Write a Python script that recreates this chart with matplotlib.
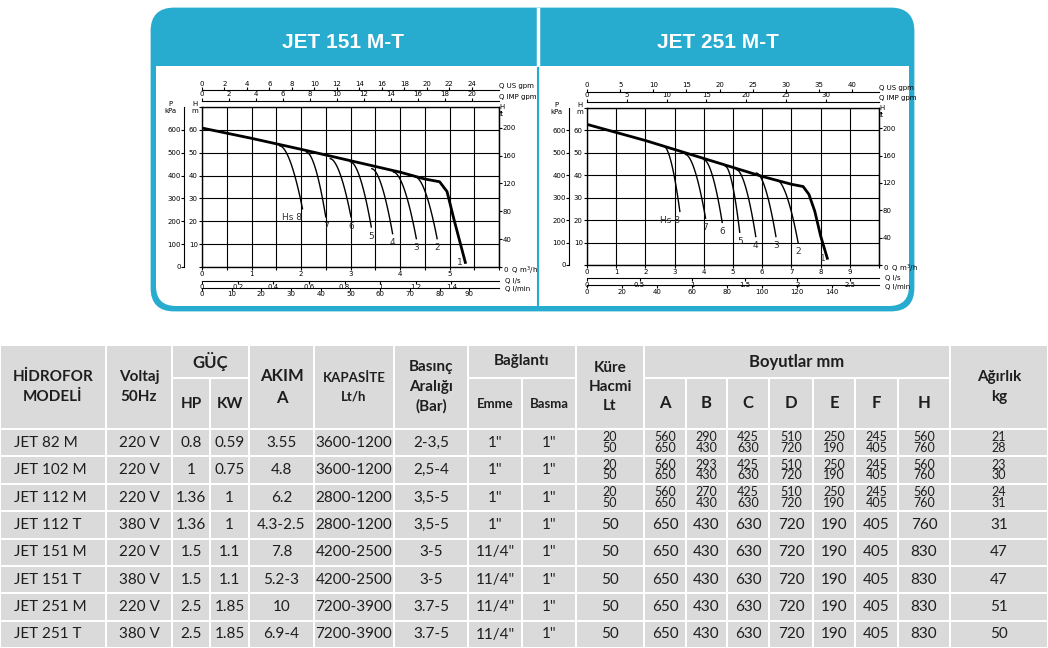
import numpy as np
import matplotlib
matplotlib.use("Agg")
import matplotlib.pyplot as plt
from matplotlib.patches import FancyBboxPatch, Rectangle

W, H = 1048, 648
TEAL = "#27abcf"
GRAY = "#dadada"
FONT = "Lato"

# ── pump curves (Q m3/h, H m) ─────────────────────────────────────────────────
left_main_q = [0, 1, 2, 3, 4, 4.5, 4.8, 4.95, 5.1, 5.32]
left_main_h = [60.8, 56.3, 51.5, 46.5, 41.5, 38.5, 37.3, 33, 20, 2]
left_lbl = ["Hs 8", "7", "6", "5", "4", "3", "2"]
left_q0 = [1.57, 2.11, 2.59, 3.00, 3.43, 3.87, 4.31]
left_h0 = [53.0, 50.3, 47.4, 46.0, 43.0, 41.5, 39.4]
left_q1 = [2.03, 2.50, 3.01, 3.42, 3.85, 4.33, 4.75]
left_h1 = [25.5, 21.9, 21.9, 17.5, 14.6, 12.4, 12.4]

right_main_q = [0, 2, 4, 6, 7, 7.4, 7.6, 7.8, 8.0, 8.23]
right_main_h = [62.7, 55.5, 47.5, 39.5, 36, 35, 31.5, 24, 13, 3]
right_lbl = ["Hs 8", "7", "6", "5", "4", "3", "2"]
right_q0 = [2.63, 3.37, 4.00, 4.74, 5.12, 5.80, 6.49]
right_h0 = [53.0, 49.3, 47.0, 44.0, 42.5, 41.0, 38.0]
right_q1 = [3.18, 4.06, 4.63, 5.23, 5.78, 6.47, 7.23]
right_h1 = [23.9, 20.9, 19.0, 14.6, 12.7, 12.7, 10.0]

# ── table data ────────────────────────────────────────────────────────────────
models = ["JET 82 M", "JET 102 M", "JET 112 M", "JET 112 T",
          "JET 151 M", "JET 151 T", "JET 251 M", "JET 251 T"]
voltaj = ["220 V", "220 V", "220 V", "380 V", "220 V", "380 V", "220 V", "380 V"]
hp = ["0.8", "1", "1.36", "1.36", "1.5", "1.5", "2.5", "2.5"]
kw = ["0.59", "0.75", "1", "1", "1.1", "1.1", "1.85", "1.85"]
akim = ["3.55", "4.8", "6.2", "4.3-2.5", "7.8", "5.2-3", "10", "6.9-4"]
kapasite = ["3600-1200", "3600-1200", "2800-1200", "2800-1200",
            "4200-2500", "4200-2500", "7200-3900", "7200-3900"]
basinc = ["2-3,5", "2,5-4", "3,5-5", "3,5-5", "3-5", "3-5", "3.7-5", "3.7-5"]
emme = ['1"', '1"', '1"', '1"', '11/4"', '11/4"', '11/4"', '11/4"']
basma = ['1"'] * 8
kure = ["20\n50", "20\n50", "20\n50", "50", "50", "50", "50", "50"]
dim_a = ["560\n650", "560\n650", "560\n650", "650", "650", "650", "650", "650"]
dim_b = ["290\n430", "293\n430", "270\n430", "430", "430", "430", "430", "430"]
dim_c = ["425\n630", "425\n630", "425\n630", "630", "630", "630", "630", "630"]
dim_d = ["510\n720", "510\n720", "510\n720", "720", "720", "720", "720", "720"]
dim_e = ["250\n190", "250\n190", "250\n190", "190", "190", "190", "190", "190"]
dim_f = ["245\n405", "245\n405", "245\n405", "405", "405", "405", "405", "405"]
dim_h = ["560\n760", "560\n760", "560\n760", "760", "830", "830", "830", "830"]
agirlik = ["21\n28", "23\n30", "24\n31", "31", "47", "47", "51", "50"]

fig = plt.figure(figsize=(W / 100, H / 100), dpi=100)
bg = fig.add_axes([0, 0, 1, 1])
bg.set_xlim(0, W)
bg.set_ylim(H, 0)
bg.axis("off")

# ── teal panel ────────────────────────────────────────────────────────────────
bg.add_patch(FancyBboxPatch((152, 9), 761, 301, boxstyle="round,pad=0,rounding_size=22",
                            fc=TEAL, ec=TEAL, lw=2))
bg.add_patch(FancyBboxPatch((156, 68), 753, 238, boxstyle="round,pad=0,rounding_size=20",
                            fc="white", ec="none"))
bg.add_patch(Rectangle((156, 66), 753, 20, fc="white", ec="none"))
bg.plot([538, 538], [9, 68], color="white", lw=2.5)
bg.plot([538, 538], [68, 308], color=TEAL, lw=1.5)
bg.text(343, 42, "JET 151 M-T", color="white", fontsize=15, fontweight="bold",
        ha="center", va="center", family="Liberation Sans")
bg.text(718, 42, "JET 251 M-T", color="white", fontsize=15, fontweight="bold",
        ha="center", va="center", family="Liberation Sans")


def chart(rect, xmax, mq, mh, lbl, q0, h0, q1, h1, conv):
    l, t, r, b = rect
    ax = fig.add_axes([l / W, 1 - b / H, (r - l) / W, (b - t) / H])
    ax.set_xlim(0, xmax)
    ax.set_ylim(0, 70)
    ax.set_xticks(np.arange(0, xmax + 0.01, conv["grid"]))
    ax.set_xticklabels([f"{v:g}" if float(v).is_integer() and v < xmax else ""
                        for v in ax.get_xticks()])
    ax.set_yticks(np.arange(0, 71, 10))
    ax.set_yticklabels(["", "10", "20", "30", "40", "50", "60", ""])
    ax.grid(True, color="black", lw=0.8)
    ax.tick_params(labelsize=5, length=2, pad=1)
    for s in ax.spines.values():
        s.set_linewidth(1)
    ax.plot(mq, mh, color="black", lw=2)
    for i in range(len(lbl)):
        qq = np.linspace(q0[i], q1[i], 30)
        hh = h0[i] - (h0[i] - h1[i]) * ((qq - q0[i]) / (q1[i] - q0[i])) ** 1.8
        ax.plot(qq, hh, color="black", lw=1)
        ax.text(q1[i], h1[i] - 2, lbl[i], fontsize=6.5, ha="right" if i == 0 else "center",
                va="top", color="#333333")
    ax.text(mq[-1] - 0.05, mh[-1], "1", fontsize=6.5, ha="right", va="center", color="#333333")

    def sec_x(loc, f, ticks, top):
        k = conv[f]
        s = ax.secondary_xaxis(loc, functions=(lambda x: x * k, lambda x: x / k))
        s.set_xticks(ticks)
        s.set_xticklabels([f"{v:g}" for v in ticks])
        s.tick_params(labelsize=5, length=2, pad=0.5)
        s.spines["top" if top else "bottom"].set_linewidth(0.8)
        return s

    sec_x(1.105, "us", conv["us_t"], True)
    sec_x(1.04, "imp", conv["imp_t"], True)
    sec_x(-0.085, "ls", conv["ls_t"], False)
    sec_x(-0.13, "lm", conv["lm_t"], False)
    kp = ax.secondary_yaxis(-0.06, functions=(lambda x: x * 10, lambda x: x / 10))
    kp.set_yticks(np.arange(0, 601, 100))
    kp.tick_params(labelsize=5, length=2, pad=0.5)
    ft = ax.secondary_yaxis("right", functions=(lambda x: x * 3.2808, lambda x: x / 3.2808))
    ft.set_yticks(np.arange(0, 201, 40))
    ft.set_yticklabels(["", "40", "80", "120", "160", "200"])
    ft.tick_params(labelsize=5, length=2, pad=0.5)

    fs = 5
    ax.text(1.0, 1.13, "Q US gpm", transform=ax.transAxes, fontsize=fs, ha="left", va="center")
    ax.text(1.0, 1.065, "Q IMP gpm", transform=ax.transAxes, fontsize=fs, ha="left", va="center")
    ax.text(1.0, 1.02, "H\nft", transform=ax.transAxes, fontsize=fs, ha="left", va="top")
    ax.text(-0.105, 1.04, "P\nkPa", transform=ax.transAxes, fontsize=fs, ha="center", va="top")
    ax.text(-0.025, 1.04, "H\nm", transform=ax.transAxes, fontsize=fs, ha="center", va="top")
    ax.text(1.015, -0.025, "0  Q m$^3$/h", transform=ax.transAxes, fontsize=fs, ha="left", va="center")
    ax.text(1.02, -0.085, "Q l/s", transform=ax.transAxes, fontsize=fs, ha="left", va="center")
    ax.text(1.02, -0.14, "Q l/min", transform=ax.transAxes, fontsize=fs, ha="left", va="center")
    return ax


chart((202, 107, 499, 267), 6, left_main_q, left_main_h, left_lbl,
      left_q0, left_h0, left_q1, left_h1,
      dict(grid=0.5, us=4.403, imp=3.666, ls=0.2778, lm=16.67,
           us_t=np.arange(0, 25, 2), imp_t=np.arange(0, 21, 2),
           ls_t=np.arange(0, 1.41, 0.2).round(1), lm_t=np.arange(0, 91, 10)))
chart((587, 108, 879, 265), 10, right_main_q, right_main_h, right_lbl,
      right_q0, right_h0, right_q1, right_h1,
      dict(grid=1, us=4.403, imp=3.666, ls=0.2778, lm=16.67,
           us_t=np.arange(0, 41, 5), imp_t=np.arange(0, 31, 5),
           ls_t=[0, 0.5, 1, 1.5, 2, 2.5], lm_t=np.arange(0, 141, 20)))

# ── table ─────────────────────────────────────────────────────────────────────
cols = [0, 106, 172, 210, 249, 314, 394, 468, 522, 576, 644,
        686, 727, 769, 813, 855, 898, 950, 1048]
top, mid, hb = 345, 378, 429
row_h = 27.4


def cell(x0, x1, y0, y1, txt="", fs=11, bold=False, ha="center", ls=1.0):
    bg.add_patch(Rectangle((x0 + 1, y0 + 1), x1 - x0 - 2, y1 - y0 - 2, fc=GRAY, ec="none"))
    if txt:
        x = (x0 + x1) / 2 if ha == "center" else x0 + 14
        bg.text(x, (y0 + y1) / 2, txt, ha=ha, va="center", fontsize=fs, family=FONT,
                fontweight="bold" if bold else "normal", color="#1e1e1e", linespacing=ls)


hdr = dict(fs=11, bold=True, ls=1.5)
cell(cols[0], cols[1], top, hb, "HİDROFOR\nMODELİ", **hdr)
cell(cols[1], cols[2], top, hb, "Voltaj\n50Hz", **hdr)
cell(cols[2], cols[4], top, mid, "GÜÇ", fs=12, bold=True)
cell(cols[2], cols[3], mid, hb, "HP", **hdr)
cell(cols[3], cols[4], mid, hb, "KW", **hdr)
cell(cols[4], cols[5], top, hb, "AKIM\nA", fs=12, bold=True, ls=1.5)
cell(cols[5], cols[6], top, hb, "KAPASİTE\nLt/h", fs=9.5, bold=True, ls=1.7)
cell(cols[6], cols[7], top, hb, "Basınç\nAralığı\n(Bar)", **hdr)
cell(cols[7], cols[9], top, mid, "Bağlantı", **hdr)
cell(cols[7], cols[8], mid, hb, "Emme", fs=9.5, bold=True)
cell(cols[8], cols[9], mid, hb, "Basma", fs=9.5, bold=True)
cell(cols[9], cols[10], top, hb, "Küre\nHacmi\nLt", **hdr)
cell(cols[10], cols[17], top, mid, "Boyutlar mm", fs=12, bold=True)
for j, name in enumerate("ABCDEFH"):
    cell(cols[10 + j], cols[11 + j], mid, hb, name, fs=12, bold=True)
cell(cols[17], cols[18], top, hb, "Ağırlık\nkg", **hdr)

columns = [models, voltaj, hp, kw, akim, kapasite, basinc, emme, basma, kure,
           dim_a, dim_b, dim_c, dim_d, dim_e, dim_f, dim_h, agirlik]
for i in range(len(models)):
    y0 = hb + i * row_h
    for j, col in enumerate(columns):
        v = col[i]
        two = "\n" in v
        cell(cols[j], cols[j + 1], y0, y0 + row_h, v,
             fs=9 if two else 11, ha="left" if j == 0 else "center", ls=0.85)

fig.savefig("out.png", dpi=100)
